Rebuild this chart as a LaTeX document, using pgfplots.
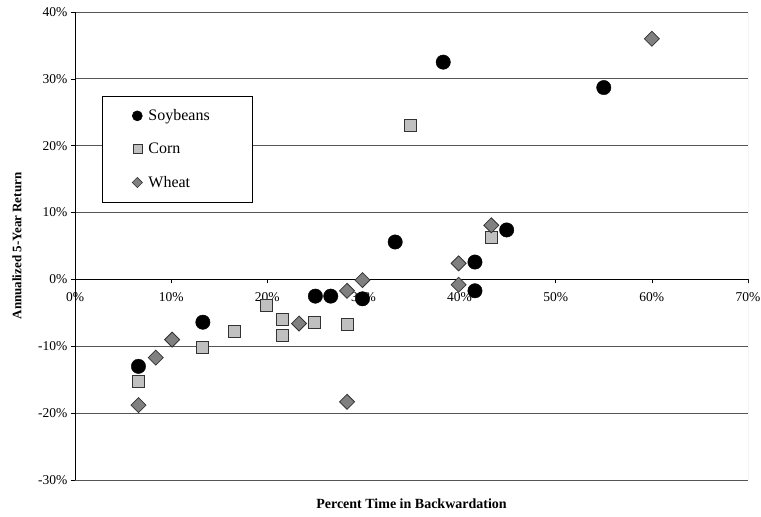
\documentclass[border=0pt]{standalone}
\usepackage{fontspec}
\setmainfont{Liberation Serif}
\usepackage{pgfplots}
\pgfplotsset{compat=1.18}
\definecolor{cornfill}{HTML}{C0C0C0}
\definecolor{wheatfill}{HTML}{808080}
\definecolor{gridc}{HTML}{555555}
\definecolor{edgec}{HTML}{333333}
\begin{document}
\begin{tikzpicture}[x=1pt,y=1pt]
\useasboundingbox (-75,-37) rectangle (686,480);
\begin{axis}[
  at={(0,0)}, anchor=south west,
  scale only axis, width=673pt, height=468pt,
  xmin=0, xmax=70, ymin=-30, ymax=40,
  enlargelimits=false,
  axis x line=middle, axis y line=left,
  axis line style={-, black, line width=0.8pt},
  hide obscured x ticks=false, hide obscured y ticks=false,
  xtick={0,10,...,70}, ytick={-30,-20,...,40},
  xticklabel={\pgfmathprintnumber{\tick}\%},
  yticklabel={\pgfmathprintnumber{\tick}\%},
  /pgf/number format/assume math mode=true,
  tick label style={font=\fontsize{13.5}{15}\selectfont, black},
  x tick label style={yshift=-6pt},
  tick align=outside, major tick length=4pt,
  tick style={black, line width=0.6pt},
  ymajorgrids, grid style={gridc, line width=0.8pt},
  xlabel={Percent Time in Backwardation},
  ylabel={Annualized 5-Year Return},
  xlabel style={at={(axis description cs:0.5,-0.0513)}, anchor=center, font=\fontsize{14}{16}\selectfont\bfseries},
  ylabel style={at={(axis description cs:-0.0862,0.5)}, anchor=center, font=\fontsize{13}{15}\selectfont\bfseries},
  legend style={at={(axis cs:2.8,27.4)}, anchor=north west, draw=black, line width=0.6pt, fill=white,
    inner xsep=30pt, inner ysep=11pt, row sep=17pt,
    font=\fontsize{16}{18}\selectfont,
    /tikz/every odd column/.append style={column sep=4pt}},
  legend cell align=left,
  legend image code/.code={\draw[mark repeat=2,mark phase=2] plot coordinates {(0pt,0pt)(5pt,0pt)(10pt,0pt)};},
]
\addlegendimage{only marks, mark=*, mark size=5pt, draw=black, fill=black}
\addlegendentry{\makebox[72pt][l]{Soybeans}}
\addlegendimage{only marks, mark=square*, mark size=4.5pt, draw=edgec, fill=cornfill, line width=0.6pt}
\addlegendentry{\makebox[72pt][l]{Corn}}
\addlegendimage{only marks, mark=square*, mark size=3.6pt, mark options={rotate=45}, draw=edgec, fill=wheatfill, line width=0.6pt}
\addlegendentry{\makebox[72pt][l]{Wheat}}

\addplot[forget plot, only marks, mark=*, mark size=7.2pt, draw=black, fill=black] coordinates {
(6.6,-13.0) (13.3,-6.4) (25.0,-2.5) (26.6,-2.5) (29.9,-2.9) (33.3,5.6)
(38.3,32.5) (41.6,2.6) (41.6,-1.7) (44.9,7.4) (55.0,28.7)
};
\addplot[forget plot, only marks, mark=square*, mark size=6pt, draw=edgec, fill=cornfill, line width=0.8pt] coordinates {
(6.6,-15.3) (13.3,-10.1) (16.6,-7.8) (19.9,-3.9) (21.6,-6.0) (21.6,-8.4)
(24.9,-6.5) (28.3,-6.8) (34.9,23.1) (43.3,6.3)
};
\addplot[forget plot, only marks, mark=square*, mark size=5.3pt, mark options={rotate=45}, draw=edgec, fill=wheatfill, line width=0.8pt] coordinates {
(6.6,-18.8) (8.4,-11.7) (10.1,-9.0) (23.3,-6.6) (28.3,-1.7) (28.3,-18.3)
(29.9,-0.1) (39.9,2.4) (39.9,-0.8) (43.3,8.1) (60.0,36.0)
};
\draw[gray!70, line width=0.8pt] (rel axis cs:1,0) -- (rel axis cs:1,1);
\end{axis}
\end{tikzpicture}
\end{document}
